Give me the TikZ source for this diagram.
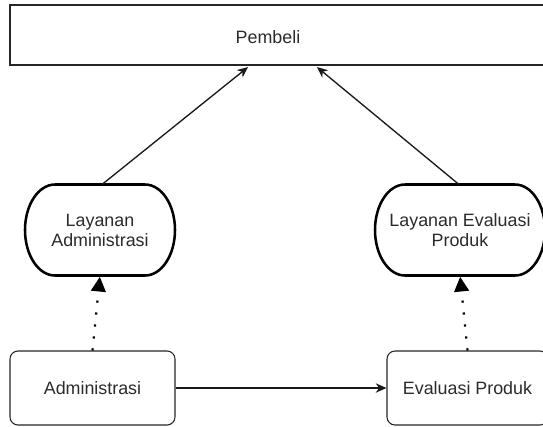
\documentclass[tikz,border=0pt]{standalone}
\usepackage{fontspec}
\setmainfont{Liberation Sans}
\usetikzlibrary{arrows.meta}
\definecolor{txt}{HTML}{2B2B2B}
\tikzset{
  boxtext/.style={font=\fontsize{13.4pt}{15pt}\selectfont, text=txt, align=center},
  topbox/.style={draw=black!85, line width=1.1pt, minimum width=412.5pt, minimum height=45pt, inner sep=0pt},
  svcbox/.style={minimum height=68.25pt, inner sep=0pt, outer sep=0pt},
  svcline/.style={draw=black, line width=1.9pt},
  basebox/.style={draw=black!85, line width=0.8pt, rounded corners=6pt, minimum height=55.5pt, inner sep=0pt},
  solidarrow/.style={draw=black!90, line width=1pt, -{Stealth[length=8pt,width=7pt,inset=2.5pt]}},
  dotarrow/.style={draw=black, line width=1.65pt, dash pattern=on 1.65pt off 7.35pt, -{Triangle[length=11pt,width=11pt]}, shorten >=1pt},
}
\newcommand\svcoutline[1]{%
  \draw[svcline] ([xshift=22.5pt]#1.north west) -- ([xshift=-22.5pt]#1.north east)
    arc[start angle=90,end angle=0,x radius=22.5pt,y radius=34.125pt]
    arc[start angle=0,end angle=-90,x radius=22.5pt,y radius=34.125pt]
    -- ([xshift=22.5pt]#1.south west)
    arc[start angle=270,end angle=180,x radius=22.5pt,y radius=34.125pt]
    arc[start angle=180,end angle=90,x radius=22.5pt,y radius=34.125pt]
    -- cycle;}
\begin{document}
\begin{tikzpicture}[x=0.75pt,y=-0.75pt]
\useasboundingbox (0,0) rectangle (543,426);
\clip (0,0) rectangle (543,426);
\fill[white] (0,0) rectangle (543,426);
\node[topbox] (pembeli) at (285,35) {};
\node[boxtext] (pembelilabel) at (268,37) {Pembeli};
\node[svcbox, minimum width=112.5pt, boxtext] (la) at (100,230) {Layanan\\Administrasi};
\node[svcbox, minimum width=127.5pt, boxtext] (lep) at (460,230) {Layanan Evaluasi\\Produk};
\svcoutline{la}
\svcoutline{lep}
\node[basebox, minimum width=123.75pt, boxtext] (adm) at (92.5,388) {Administrasi};
\node[basebox, minimum width=120.75pt, boxtext] (ep) at (467.5,388) {Evaluasi Produk};
\draw[solidarrow] ([xshift=1.5pt]la.north) -- ([xshift=-27.75pt,yshift=-1pt]pembeli.south);
\draw[solidarrow] ([xshift=-0.75pt]lep.north) -- ([xshift=24pt,yshift=-1pt]pembeli.south);
\draw[dotarrow] (adm.north) -- (la.south);
\draw[dotarrow] (ep.north) -- (lep.south);
\draw[solidarrow] (adm.east) -- (ep.west);
\end{tikzpicture}
\end{document}
